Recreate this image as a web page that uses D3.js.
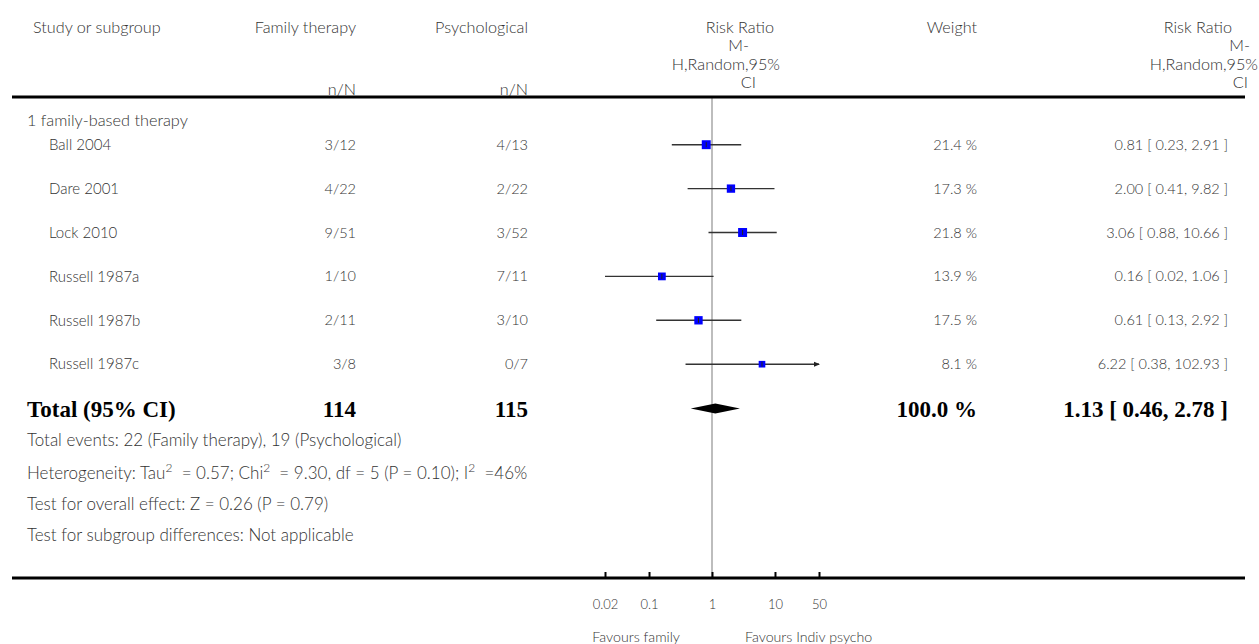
<!DOCTYPE html>
<html>
<head>
<meta charset="utf-8">
<script src="https://cdn.jsdelivr.net/npm/d3@7/dist/d3.min.js"></script>
<style>
  body { margin: 0; background: #fff; }
  svg text { font-family: Lato, "Open Sans", sans-serif; font-weight: 300; fill: #333; }
  svg text.bold { font-family: "Liberation Serif", serif; font-weight: 700; fill: #000; }
</style>
</head>
<body>
<svg id="chart" width="1259" height="644"></svg>
<script>
const studies = ["Ball 2004", "Dare 2001", "Lock 2010", "Russell 1987a", "Russell 1987b", "Russell 1987c"];
const familyEvents = ["3/12", "4/22", "9/51", "1/10", "2/11", "3/8"];
const psychEvents = ["4/13", "2/22", "3/52", "7/11", "3/10", "0/7"];
const riskRatio = [0.81, 2.00, 3.06, 0.16, 0.61, 6.22];
const ciLow = [0.23, 0.41, 0.88, 0.02, 0.13, 0.38];
const ciHigh = [2.91, 9.82, 10.66, 1.06, 2.92, 102.93];
const weights = [21.4, 17.3, 21.8, 13.9, 17.5, 8.1];
const total = { label: "Total (95% CI)", family: "114", psych: "115", weight: "100.0 %", rr: 1.13, lo: 0.46, hi: 2.78 };
const subgroup = "1 family-based therapy";
const footer = [
  "Total events: 22 (Family therapy), 19 (Psychological)",
  null,
  "Test for overall effect: Z = 0.26 (P = 0.79)",
  "Test for subgroup differences: Not applicable"
];
const tickValues = [0.02, 0.1, 1, 10, 50];
const favourLeft = "Favours family";
const favourRight = "Favours Indiv psycho";

const svg = d3.select("#chart");
const x = d3.scaleLog().domain([0.02, 50]).range([605, 819]);
const rowY = d3.scaleLinear().domain([0, 1]).range([144.7, 188.6]);
const size = d3.scaleSqrt().domain([0, 22]).range([3, 9]);
const fmt = d3.format(".2f");

function t(g, xx, yy, s, anchor, cls) {
  return g.append("text").attr("x", xx).attr("y", yy).attr("dy", "0.35em")
    .attr("text-anchor", anchor || "start").attr("class", cls || null).text(s);
}

// header
const hdr = svg.append("g").attr("font-size", 16.2);
t(hdr, 33, 27, "Study or subgroup");
t(hdr, 356, 27, "Family therapy", "end");
t(hdr, 528, 27, "Psychological", "end");
t(hdr, 356, 89, "n/N", "end");
t(hdr, 528, 89, "n/N", "end");
t(hdr, 977, 27, "Weight", "end");
const rrLines = ["Risk Ratio", "M-", "H,Random,95%", "CI"];
const rrY = [27, 45.5, 64, 82.5];
const midEnds = [774, 749, 780, 756];
const rightEnds = [1232, 1250, 1258, 1248];
rrLines.forEach((s, i) => {
  t(hdr, midEnds[i], rrY[i], s, "end");
  t(hdr, rightEnds[i], rrY[i], s, "end");
});

// reference line
svg.append("line").attr("x1", x(1)).attr("x2", x(1)).attr("y1", 98).attr("y2", 578)
  .attr("stroke", "#bdbdbd").attr("stroke-width", 2);

// rules
svg.append("line").attr("x1", 12).attr("x2", 1245).attr("y1", 97).attr("y2", 97).attr("stroke", "#000").attr("stroke-width", 3);
svg.append("line").attr("x1", 12).attr("x2", 1245).attr("y1", 578).attr("y2", 578).attr("stroke", "#000").attr("stroke-width", 3);

const body = svg.append("g").attr("font-size", 14.5);
t(body, 27, 120.7, subgroup).attr("font-size", 16.3);

studies.forEach((s, i) => {
  const y = rowY(i);
  t(body, 49, y, s).attr("font-size", 15);
  t(body, 356, y, familyEvents[i], "end");
  t(body, 528, y, psychEvents[i], "end");
  t(body, 977, y, weights[i].toFixed(1) + " %", "end");
  t(body, 1228, y, fmt(riskRatio[i]) + " [ " + fmt(ciLow[i]) + ", " + fmt(ciHigh[i]) + " ]", "end");
  const [d0, d1] = x.domain();
  const xl = x(Math.max(ciLow[i], d0));
  const xh = x(Math.min(ciHigh[i], d1));
  svg.append("line").attr("x1", xl).attr("x2", xh).attr("y1", y).attr("y2", y)
    .attr("stroke", "#333").attr("stroke-width", 1.4);
  if (ciHigh[i] > d1) {
    svg.append("path").attr("d", `M${xh + 1},${y} l-6,-2.5 l0,5 z`).attr("fill", "#222");
  }
  const sz = size(weights[i]);
  svg.append("rect").attr("x", x(riskRatio[i]) - sz / 2).attr("y", y - sz / 2)
    .attr("width", sz).attr("height", sz).attr("fill", "#0000ff");
  svg.append("line").attr("x1", x(riskRatio[i])).attr("x2", x(riskRatio[i]))
    .attr("y1", y - 2.5).attr("y2", y + 2.5).attr("stroke", "#222").attr("stroke-width", 1);
});

// total row
const ty = 408.5;
const tg = svg.append("g").attr("font-size", 23);
t(tg, 27, ty, total.label, "start", "bold");
t(tg, 356, ty, total.family, "end", "bold");
t(tg, 528, ty, total.psych, "end", "bold");
t(tg, 977, ty, total.weight, "end", "bold");
t(tg, 1228, ty, fmt(total.rr) + " [ " + fmt(total.lo) + ", " + fmt(total.hi) + " ]", "end", "bold");
svg.append("path")
  .attr("d", `M${x(total.lo)},${ty} L${x(total.rr)},${ty - 5} L${x(total.hi)},${ty} L${x(total.rr)},${ty + 5} Z`)
  .attr("fill", "#000");

// footer
const fg = svg.append("g").attr("font-size", 17);
const fy = [440, 473, 504, 535];
footer.forEach((s, i) => { if (s) t(fg, 27, fy[i], s); });
const het = fg.append("text").attr("x", 27).attr("y", fy[1]).attr("dy", "0.35em");
const parts = [["Heterogeneity: Tau", 0], ["2", 1], ["  = 0.57; Chi", 0], ["2", 1], ["  = 9.30, df = 5 (P = 0.10); I", 0], ["2", 1], ["  =46%", 0]];
parts.forEach(([s, sup]) => {
  const ts = het.append("tspan").text(s).style("white-space", "pre");
  if (sup) ts.attr("font-size", 12).attr("baseline-shift", "super");
});

// axis
const axis = d3.axisBottom(x).tickValues(tickValues).tickFormat(d3.format("~g"))
  .tickSize(-6).tickPadding(22);
const ag = svg.append("g").attr("transform", "translate(0,578)").call(axis);
ag.select(".domain").remove();
ag.selectAll(".tick line").attr("stroke", "#000").attr("stroke-width", 2);
ag.selectAll(".tick text").attr("font-size", 13).attr("fill", "#333")
  .style("font-family", "Lato, sans-serif").style("font-weight", 300);
const lg = svg.append("g").attr("font-size", 14.2);
t(lg, x(1) - 32, 637, favourLeft, "end");
t(lg, x(1) + 33, 637, favourRight, "start");
</script>
</body>
</html>
